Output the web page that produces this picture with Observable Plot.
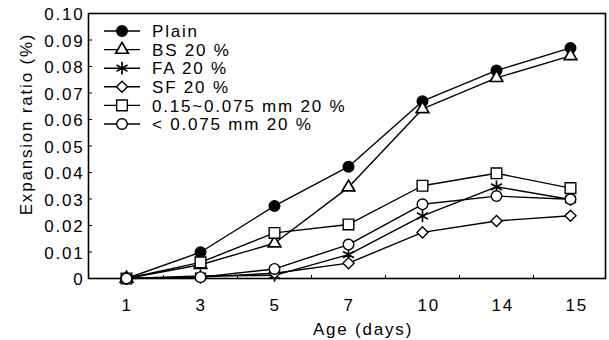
<!DOCTYPE html>
<html>
<head>
<meta charset="utf-8">
<script src="https://cdn.jsdelivr.net/npm/d3@7"></script>
<script src="https://cdn.jsdelivr.net/npm/@observablehq/plot@0.6"></script>
<style>
  html, body { margin: 0; padding: 0; background: #fff; }
  #chart svg { display: block; }
</style>
</head>
<body>
<div id="chart"></div>
<script>
// ---- data ----
const ages = ["1", "3", "5", "7", "10", "14", "15"];
const seriesNames = ["Plain", "BS 20 %", "FA 20 %", "SF 20 %", "0.15~0.075 mm 20 %", "< 0.075 mm 20 %"];
const plain  = [0, 0.0099, 0.0274, 0.0422, 0.0669, 0.0785, 0.0870];
const bs20   = [0, 0.0052, 0.0133, 0.0344, 0.0640, 0.0757, 0.0840];
const fa20   = [0, 0.0010, 0.0012, 0.0090, 0.0236, 0.0346, 0.0298];
const sf20   = [0, 0.0005, 0.0020, 0.0058, 0.0174, 0.0217, 0.0237];
const mid20  = [0, 0.0061, 0.0172, 0.0204, 0.0350, 0.0397, 0.0341];
const fine20 = [0, 0.0005, 0.0036, 0.0128, 0.0280, 0.0311, 0.0299];
const yTicks = [0, 0.01, 0.02, 0.03, 0.04, 0.05, 0.06, 0.07, 0.08, 0.09, 0.10];
const yTickLabels = ["0", "0.01", "0.02", "0.03", "0.04", "0.05", "0.06", "0.07", "0.08", "0.09", "0.10"];
const xTitle = "Age (days)";
const yTitle = "Expansion ratio (%)";

// ---- styles (not data) ----
const seriesValues = [plain, bs20, fa20, sf20, mid20, fine20];
const symbols = [
  {symbol: "circle",    r: 5.3, fill: "black"},
  {symbol: "triangle2", r: 6.0, fill: "white"},
  {symbol: "asterisk",  r: 6.0, fill: "none"},
  {symbol: "diamond2",  r: 5.0, fill: "white"},
  {symbol: "square2",   r: 6.8, fill: "white"},
  {symbol: "circle",    r: 5.3, fill: "white"}
];
const d3Symbols = {circle: d3.symbolCircle, triangle2: d3.symbolTriangle2, asterisk: d3.symbolAsterisk, diamond2: d3.symbolDiamond2, square2: d3.symbolSquare2};

const series = seriesNames.map((name, k) => ({
  name,
  rows: ages.map((a, i) => ({age: a, value: seriesValues[k][i], series: name})),
  ...symbols[k]
}));

const FONT = "'Liberation Sans', Arial, Helvetica, sans-serif";
const LS = "1.8px";
const SW = s => s.symbol === "asterisk" ? 1.7 : (s.symbol === "triangle2" ? 1.7 : 1.4);

const marks = [
  Plot.frame({stroke: "black", strokeWidth: 1.6}),
  Plot.axisY({ticks: yTicks, tickFormat: d => yTickLabels[yTicks.indexOf(d)], tickSize: 0, tickPadding: 4, dy: 1.5, label: null}),
  Plot.axisY({ticks: yTicks, tickFormat: () => "", tickSize: 4, dx: 4, label: null}),
  Plot.axisX({tickSize: 0, tickPadding: 20, textAnchor: "start", dx: -5, label: null}),
  Plot.axisX({ticks: ages.slice(0, -1), tickFormat: () => "", tickSize: 3, dx: 37, dy: -3, label: null}),
  ...series.map(s => Plot.line(s.rows, {x: "age", y: "value", stroke: "black", strokeWidth: 1.4})),
  ...series.map(s => Plot.dot(s.rows, {x: "age", y: "value", symbol: () => s.symbol, r: s.r, fill: s.fill, stroke: "black", strokeWidth: SW(s)})),
  Plot.text([xTitle], {frameAnchor: "bottom", lineAnchor: "bottom", textAnchor: "middle", text: d => d, dx: 16, dy: 56}),
  Plot.text([yTitle], {frameAnchor: "left", rotate: -90, textAnchor: "middle", lineAnchor: "middle", text: d => d, dx: -62, dy: -22})
];

const chart = Plot.plot({
  width: 609,
  height: 340,
  marginLeft: 88,
  marginRight: 4,
  marginTop: 13,
  marginBottom: 62,
  style: {fontFamily: FONT, fontSize: "17px", letterSpacing: LS, background: "white", color: "black"},
  x: {type: "point", domain: ages, padding: 0.48, align: 0.52, label: null},
  y: {domain: [0, 0.1], label: null},
  marks
});

// ---- legend (inside the frame, top-left) ----
const svg = d3.select(chart);
const lg = svg.append("g").attr("class", "legend").attr("text-anchor", "start");
series.forEach((s, i) => {
  const yy = 31 + i * 18.6;
  const g = lg.append("g").attr("transform", `translate(0,${yy})`);
  g.append("line").attr("x1", 104).attr("x2", 140).attr("y1", 0).attr("y2", 0)
    .attr("stroke", "black").attr("stroke-width", 1.4);
  g.append("path")
    .attr("transform", "translate(122,0)")
    .attr("d", d3.symbol(d3Symbols[s.symbol], Math.PI * s.r * s.r)())
    .attr("fill", s.fill).attr("stroke", "black")
    .attr("stroke-width", SW(s));
  g.append("text").attr("x", 152).attr("y", 0).attr("dy", "0.36em")
    .attr("text-anchor", "start")
    .attr("font-family", FONT).attr("font-size", 17).attr("letter-spacing", LS)
    .attr("fill", "black").text(s.name);
});

document.getElementById("chart").appendChild(chart);
</script>
</body>
</html>
